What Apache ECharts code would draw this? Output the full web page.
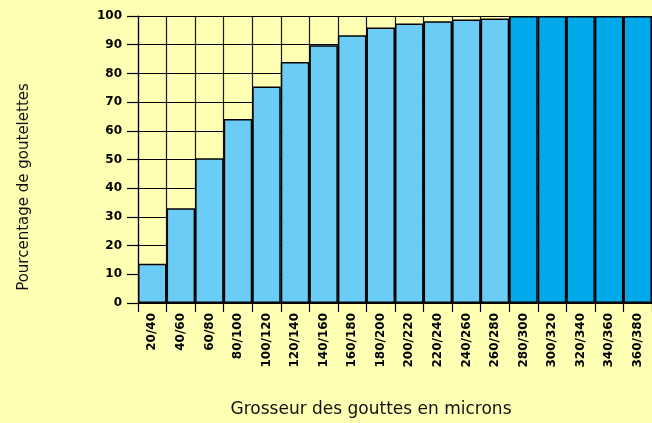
<!DOCTYPE html>
<html>
<head>
<meta charset="utf-8">
<script src="https://cdn.jsdelivr.net/npm/echarts@6/dist/echarts.min.js"></script>
<style>
  html, body { margin: 0; padding: 0; background: #ffffb4; }
  #chart { width: 652px; height: 423px; }
</style>
</head>
<body>
<div id="chart"></div>
<script>
// droplet size classes (microns) and cumulative percentage
var sizeClasses = ['20/40', '40/60', '60/80', '80/100', '100/120', '120/140', '140/160',
  '160/180', '180/200', '200/220', '220/240', '240/260', '260/280', '280/300',
  '300/320', '320/340', '340/360', '360/380'];
var cumulPercent = [13.7, 33.0, 50.4, 64.1, 75.4, 84.0, 89.8, 93.3, 96.0, 97.4, 98.2,
  98.8, 99.1, 100, 100, 100, 100, 100];
var yTicks = [0, 10, 20, 30, 40, 50, 60, 70, 80, 90, 100];
var fullFrom = '280/300'; // from this class on, 100 %

var labelFont = '"DejaVu Sans", sans-serif';
var titleFont = '"DejaVu Sans", sans-serif';
var fullIndex = sizeClasses.indexOf(fullFrom);

var chart = echarts.init(document.getElementById('chart'));
chart.setOption({
  backgroundColor: '#ffffb4',
  animation: false,
  grid: { left: 138, top: 16, right: -2, bottom: 120 },
  xAxis: {
    type: 'category',
    data: sizeClasses,
    boundaryGap: true,
    axisLine: { show: true, lineStyle: { color: '#000', width: 1.2 } },
    axisTick: { show: true, length: 9, lineStyle: { color: '#000', width: 1.2 } },
    axisLabel: {
      rotate: 90, interval: 0, margin: 10,
      color: '#000', fontFamily: labelFont, fontWeight: 'bold', fontSize: 12
    },
    splitLine: { show: true, lineStyle: { color: '#1a1a1a', width: 1.2 } }
  },
  yAxis: {
    type: 'value',
    min: yTicks[0],
    max: yTicks[yTicks.length - 1],
    interval: yTicks[1] - yTicks[0],
    axisLine: { show: true, lineStyle: { color: '#000', width: 1.2 } },
    axisTick: { show: true, length: 11, lineStyle: { color: '#000', width: 1.2 } },
    axisLabel: {
      margin: 16,
      color: '#000', fontFamily: labelFont, fontWeight: 'bold', fontSize: 12
    },
    splitLine: { show: true, lineStyle: { color: '#000', width: 1.2 } }
  },
  series: [{
    type: 'bar',
    data: cumulPercent,
    barCategoryGap: '0%',
    itemStyle: {
      color: function (p) { return p.dataIndex >= fullIndex ? '#00aaea' : '#6bcdf5'; },
      borderColor: '#000',
      borderWidth: 1.5
    }
  }],
  graphic: [
    {
      type: 'text',
      x: 371, y: 410,
      style: {
        text: 'Grosseur des gouttes en microns', font: '17px ' + titleFont, fill: '#111',
        textAlign: 'center', textVerticalAlign: 'middle'
      }
    },
    {
      type: 'text',
      x: 24, y: 187,
      rotation: Math.PI / 2,
      style: {
        text: 'Pourcentage de goutelettes', font: '15px ' + titleFont, fill: '#111',
        textAlign: 'center', textVerticalAlign: 'middle'
      }
    }
  ]
});
</script>
</body>
</html>
